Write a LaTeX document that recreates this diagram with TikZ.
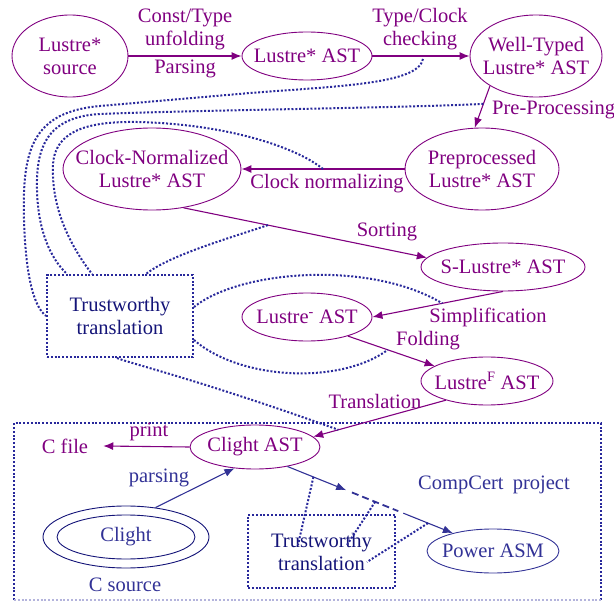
\documentclass[tikz,border=0pt]{standalone}
\usepackage{fontspec}
\setmainfont{Liberation Serif}
\usetikzlibrary{shapes.geometric,arrows.meta,calc}
\definecolor{lpur}{RGB}{128,0,128}
\definecolor{dblue}{RGB}{40,40,155}
\definecolor{nblue}{RGB}{20,20,120}
\definecolor{mblue}{RGB}{50,50,150}
\begin{document}
\begin{tikzpicture}[x=1pt,y=-1pt,
  every node/.style={font=\fontsize{20.5}{23}\selectfont, align=center, inner sep=0pt},
  pell/.style={draw=lpur, line width=0.9pt, ellipse},
  bell/.style={draw=mblue, line width=0.9pt, ellipse},
  ptxt/.style={text=lpur},
  btxt/.style={text=mblue},
  ntxt/.style={text=nblue},
  parr/.style={draw=lpur, line width=1.1pt, -{Latex[length=10pt,width=8pt]}},
  barr/.style={draw=mblue, line width=1.1pt, -{Latex[length=10pt,width=8pt]}},
  dotl/.style={draw=dblue, line width=2pt, dash pattern=on 2pt off 1.8pt},
  tbox/.style={dotl, rectangle, text=nblue}
]
\useasboundingbox (0,0) rectangle (614,602);

% ellipses
\node[pell, minimum width=116pt, minimum height=82pt] (ls) at (70,56) {};
\node[pell, minimum width=130pt, minimum height=48pt] (la) at (307,56) {};
\node[pell, minimum width=132pt, minimum height=82pt] (wt) at (536,56) {};
\node[pell, minimum width=154pt, minimum height=82pt] (pp) at (482,169) {};
\node[pell, minimum width=178pt, minimum height=82pt] (cn) at (152,169) {};
\node[pell, minimum width=164pt, minimum height=48pt] (sl) at (503,267) {};
\node[pell, minimum width=130pt, minimum height=48pt] (lm) at (307,317) {};
\node[pell, minimum width=132pt, minimum height=48pt] (lf) at (487,381) {};
\node[pell, minimum width=130pt, minimum height=44pt] (ca) at (255,447) {};
\node[draw=nblue, line width=0.9pt, ellipse, minimum width=166pt, minimum height=62pt] (cl) at (126,537) {};
\node[draw=nblue, line width=0.9pt, ellipse, minimum width=138pt, minimum height=44pt] (cli) at (126,537) {};
\node[bell, minimum width=132pt, minimum height=44pt] (pa) at (493,551) {};

% texts in ellipses
\node[ptxt] (lsT) at (ls) {Lustre*\\source};
\node[ptxt] (laT) at (la) {Lustre* AST};
\node[ptxt] (wtT) at (wt) {Well-Typed\\Lustre* AST};
\node[ptxt] (ppT) at (pp) {Preprocessed\\Lustre* AST};
\node[ptxt] (cnT) at (cn) {Clock-Normalized\\Lustre* AST};
\node[ptxt] (slT) at (sl) {S-Lustre* AST};
\node[ptxt] (lmT) at (lm) {Lustre\textsuperscript{-} AST};
\node[ptxt] (lfT) at (lf) {Lustre\textsuperscript{F} AST};
\node[ptxt] (caT) at (ca) {Clight AST};
\node[btxt] (clT) at (cl) {Clight};
\node[btxt] (paT) at (pa) {Power ASM};
\node[ptxt] (cf) at (65,446) {C file};

% boxes
\node[tbox, minimum width=146pt, minimum height=82pt] (tt) at (120,316) {Trustworthy\\translation};
\node[tbox, minimum width=147pt, minimum height=73pt] (tb) at (321.5,551.5) {Trustworthy\\translation};
\draw[dotl] (14,600) -- (14,423) -- (601,423) -- (601,600);
\draw[dotl, draw=dblue!35] (14,600) -- (601,600);

% labels
\node[ptxt] (l1) at (185,29) {Const/Type\\unfolding};
\node[ptxt] (l2) at (185,69) {Parsing};
\node[ptxt] (l3) at (420,29.5) {Type/Clock\\checking};
\node[ptxt, anchor=west] (l4) at (492,110) {Pre-Processing};
\node[ptxt] (l5) at (327,184) {Clock normalizing};
\node[ptxt] (l6) at (387,232) {Sorting};
\node[ptxt] (l7) at (488,317) {Simplification};
\node[ptxt] (l8) at (428,341) {Folding};
\node[ptxt] (l9) at (375,401) {Translation};
\node[ptxt] (l10) at (149,432) {print};
\node[btxt] (l11) at (159,478) {parsing};
\node[btxt] (l12) at (494,485) {CompCert\hspace{0.45em}project};
\node[btxt] (l13) at (125,585) {C source};

% purple arrows
\draw[parr] (ls) -- (la);
\draw[parr] (la) -- (wt);
\draw[parr] (wt.213) -- (pp.100);
\draw[parr] (pp) -- (cn);
\draw[parr] (cn.-51) -- (sl.173);
\draw[parr] (sl.south) -- (lm.east);
\draw[parr] (lm.-25) -- (lf.164);
\draw[parr] (lf.205) -- (ca.10);
\draw[parr] (ca.west) -- ([xshift=15pt]cf.east);

% blue arrows
\draw[barr] (cl.45) -- (ca.226);
\path (ca.-31) -- coordinate[pos=0.355] (m1) coordinate[pos=0.39] (m2)
  coordinate[pos=0.67] (m3) coordinate[pos=0.70] (m4)
  coordinate[pos=0.157] (b1) coordinate[pos=0.53] (b2) coordinate[pos=0.85] (b3) (pa.156);
\draw[barr] (ca.-31) -- (m1);
\draw[draw=mblue, line width=1.8pt, dash pattern=on 7pt off 4pt] (m2) -- (m3);
\draw[barr] (m4) -- (pa.156);

% anchor points on arrows
\coordinate (oS) at (423,59);
\path (wt.213) -- coordinate[pos=0.43] (mS) (pp.100);
\path (pp.west) -- coordinate[pos=0.5] (iS) (cn.east);
\path (cn.-51) -- coordinate[pos=0.347] (dS) (sl.173);
\path (sl.south) -- coordinate[pos=0.465] (eS) (lm.east);
\path (lm.-25) -- coordinate[pos=0.46] (fS) (lf.164);
\path (lf.205) -- coordinate[pos=0.81] (gS) (ca.10);

% dotted correspondences
\draw[dotl] (oS) .. controls (418,84) and (340,86) .. (250,93) -- (100,106)
  .. controls (32,112) and (22,150) .. (24,220) .. controls (26,285) and (36,308) .. (tt.west);
\draw[dotl] (mS) .. controls (400,108) and (200,110) .. (100,114)
  .. controls (45,117) and (36,150) .. (37,190) .. controls (38,230) and (50,258) .. ([xshift=21pt]tt.north west);
\draw[dotl] (iS) .. controls (300,150) and (240,128) .. (160,123)
  .. controls (100,119) and (55,125) .. (53,165) .. controls (51,210) and (72,248) .. ([xshift=46pt]tt.north west);
\draw[dotl] (dS) .. controls (230,238) and (170,255) .. ([xshift=100pt]tt.north west);
\draw[dotl] ([yshift=9pt]tt.east) .. controls (240,270) and (370,260) .. (eS);
\draw[dotl] ([yshift=-24pt]tt.east) .. controls (240,380) and (340,385) .. (fS);
\draw[dotl] ([xshift=-3pt]tt.south) .. controls (125,362) and (200,380) .. (gS);

\coordinate (t1) at (298,545);
\coordinate (t2) at (347,545);
\coordinate (t3) at (367,562);
\draw[dotl] (b1) -- (t1);
\draw[dotl] (b2) -- (t2);
\draw[dotl] (b3) -- (t3);
\end{tikzpicture}
\end{document}
